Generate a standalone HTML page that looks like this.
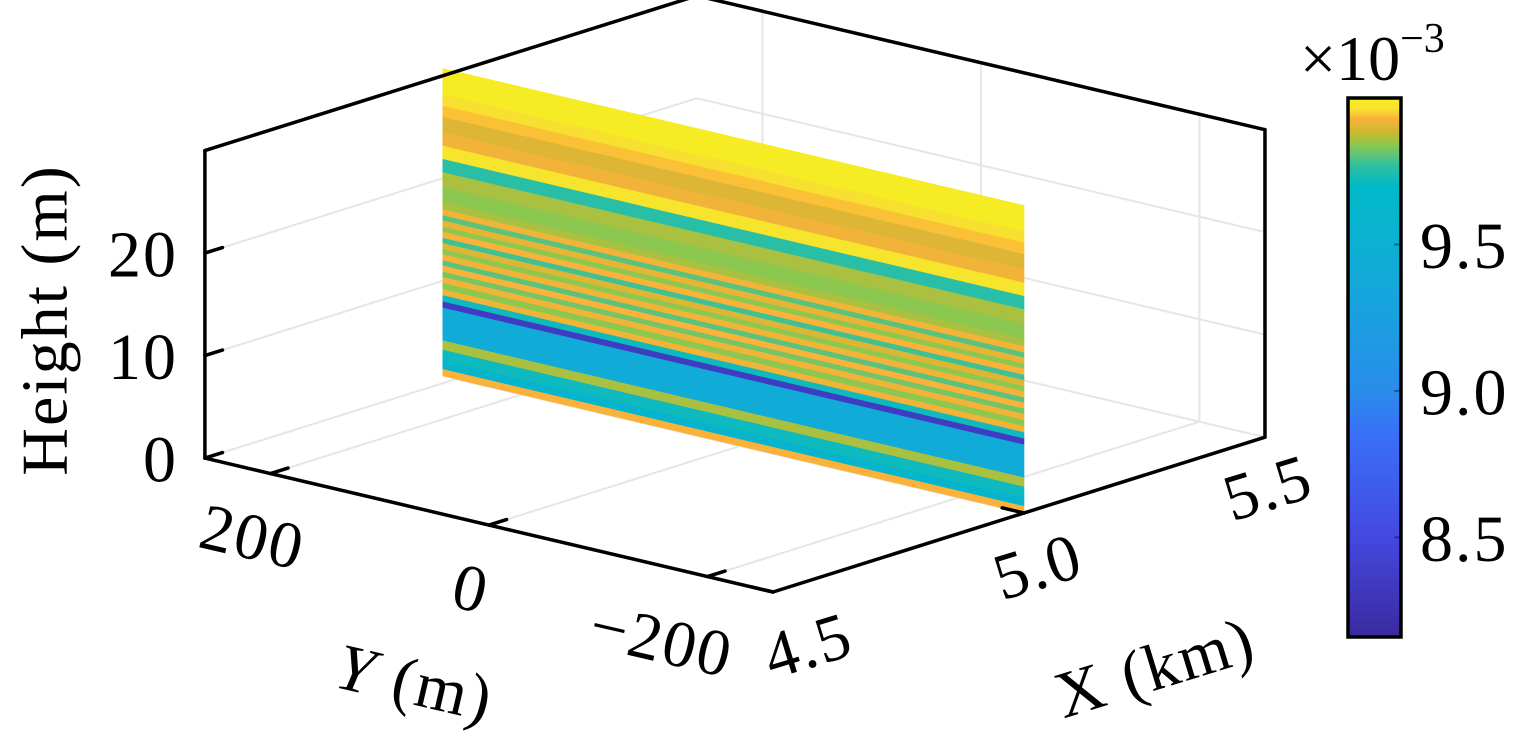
<!DOCTYPE html>
<html><head><meta charset="utf-8">
<style>
html,body{margin:0;padding:0;background:#fff;width:1535px;height:737px;overflow:hidden}
svg{display:block}
text{font-family:"Liberation Serif","DejaVu Serif",serif;fill:#000}
</style></head>
<body>
<svg id="chart" width="1535" height="737" viewBox="0 0 1535 737" xmlns="http://www.w3.org/2000/svg">
<defs>
<linearGradient id="cbgrad" x1="0" y1="0" x2="0" y2="1"></linearGradient>
</defs>
<g id="grid"></g>
<g id="slab"></g>
<g id="axes"></g>
<g id="labels"></g>
<g id="cbar"></g>
</svg>
<script>
// ---- data ----
const xTicks = [4.5, 5.0, 5.5];
const xTickLabels = ["4.5", "5.0", "5.5"];
const yTicks = [200, 0, -200];
const yTickLabels = ["200", "0", "\u2212200"];
const zTicks = [0, 10, 20];
const zTickLabels = ["0", "10", "20"];
const xLim = [4.5, 5.48];
const yLim = [-260, 260];
const zLim = [0, 30];
const slabX = 5.0;
// band lower bounds (m) and colour values (x1e-3)
const bandZ = [0,0.7,1.5,2.6,3.5,6.7,7.3,7.9,8.5,9.1,9.7,10.2,10.8,11.3,11.9,12.4,13.0,13.5,14.1,14.6,15.2,15.7,16.3,17.0,18.5,19.9,21.2,22.5,23.8,25.3,26.4,27.5];
const bandV = [9.93,9.6,9.72,9.86,9.42,8.35,9.72,9.92,9.84,9.92,9.82,9.93,9.8,9.92,9.84,9.9,9.78,9.93,9.84,9.91,9.8,9.92,9.86,9.84,9.86,9.76,9.97,9.92,9.9,9.94,9.96,9.99];
const cLim = [8.16, 10.0];
const cTicks = [8.5, 9.0, 9.5];
const cTickLabels = ["8.5", "9.0", "9.5"];
const cmapV = [8.16, 8.5, 8.85, 9.0, 9.25, 9.5, 9.7, 9.77, 9.84, 9.88, 9.93, 9.96, 10.0];
const cmapC = ["#3a2a9e","#4448e0","#3a70f8","#2a8cea","#1aa0e0","#0cb0d2","#00b8c8","#30c0a0","#8cc850","#c8b830","#fbb23a","#f8e030","#f5f020"];

// ---- projection ----
const O = [773, 592];
const EX = [502, -158];
const EY = [-1.0925, -0.2575];
const EZ = [0, -10.25];
function P(x, y, z) {
  const dx = x - xLim[0], dy = y - yLim[0];
  return [O[0] + dx*EX[0] + dy*EY[0] + z*EZ[0], O[1] + dx*EX[1] + dy*EY[1] + z*EZ[1]];
}
function hex(c){return [parseInt(c.substr(1,2),16),parseInt(c.substr(3,2),16),parseInt(c.substr(5,2),16)];}
function cmap(v) {
  if (v <= cmapV[0]) return cmapC[0];
  for (let i = 1; i < cmapV.length; i++) {
    if (v <= cmapV[i]) {
      const t = (v - cmapV[i-1]) / (cmapV[i] - cmapV[i-1]);
      const a = hex(cmapC[i-1]), b = hex(cmapC[i]);
      return "rgb(" + a.map((q,k)=>Math.round(q+(b[k]-q)*t)).join(",") + ")";
    }
  }
  return cmapC[cmapC.length-1];
}
const NS = "http://www.w3.org/2000/svg";
function mk(tag, attrs, parent) {
  const e = document.createElementNS(NS, tag);
  for (const k in attrs) e.setAttribute(k, attrs[k]);
  parent.appendChild(e);
  return e;
}
function pts(a){return a.map(p=>p[0].toFixed(1)+","+p[1].toFixed(1)).join(" ");}
function line(g, a, b, stroke, w, name) {
  const l = mk("line", {x1:a[0],y1:a[1],x2:b[0],y2:b[1],stroke:stroke,"stroke-width":w,"stroke-linecap":"round"}, g);
  
  
  return l;
}
const grid = document.getElementById("grid");
const slab = document.getElementById("slab");
const axes = document.getElementById("axes");
const labels = document.getElementById("labels");
const cbar = document.getElementById("cbar");
const GC = "#e6e6e6";
const FS = 66;

// ---- grid ----
zTicks.forEach(z => line(grid, P(xLim[0], yLim[1], z), P(xLim[1], yLim[1], z), GC, 2, "grid-line-z"));
xTicks.forEach(x => { if (x <= xLim[1]) line(grid, P(x, yLim[1], zLim[0]), P(x, yLim[1], zLim[1]), GC, 2, "grid-line-x"); });
zTicks.forEach(z => line(grid, P(xLim[1], yLim[0], z), P(xLim[1], yLim[1], z), GC, 2, "grid-line-z"));
yTicks.forEach(y => line(grid, P(xLim[1], y, zLim[0]), P(xLim[1], y, zLim[1]), GC, 2, "grid-line-y"));
yTicks.forEach(y => line(grid, P(xLim[0], y, 0), P(xLim[1], y, 0), GC, 2, "grid-line-y"));
xTicks.forEach(x => { if (x <= xLim[1]) line(grid, P(x, yLim[0], 0), P(x, yLim[1], 0), GC, 2, "grid-line-x"); });

// ---- slab bands ----
for (let i = 0; i < bandZ.length; i++) {
  const z0 = bandZ[i], z1 = (i + 1 < bandZ.length) ? bandZ[i+1] : zLim[1];
  const poly = mk("polygon", {points: pts([P(slabX, yLim[1]+12, z0), P(slabX, yLim[0], z0), P(slabX, yLim[0], z1), P(slabX, yLim[1]+12, z1)]), fill: cmap(bandV[i]), stroke: cmap(bandV[i]), "stroke-width": 0.6}, slab);
  
  
}

// ---- axes box ----
const K = "#000";
const L0 = P(xLim[0], yLim[1], 0), F0 = P(xLim[0], yLim[0], 0), R0 = P(xLim[1], yLim[0], 0);
const L1 = P(xLim[0], yLim[1], zLim[1]), B1 = P(xLim[1], yLim[1], zLim[1]), R1 = P(xLim[1], yLim[0], zLim[1]);
line(axes, L0, F0, K, 3.5, "y-axis-line");
line(axes, F0, R0, K, 3.5, "x-axis-line");
line(axes, L0, L1, K, 3.5, "z-axis-line");
line(axes, R0, R1, K, 3.5, "box-edge-right");
line(axes, L1, B1, K, 3.5, "box-edge-top-left");
line(axes, B1, R1, K, 3.5, "box-edge-top-right");
zTicks.forEach((z, i) => {
  const a = P(xLim[0], yLim[1], z), b = P(xLim[0] + 0.035, yLim[1], z);
  line(axes, a, b, K, 3.5, "z-tick");
  const t = mk("text", {x: 178, y: a[1] + 2, "font-size": FS, "text-anchor": "end", "dominant-baseline": "central", "letter-spacing": 2}, labels);
  t.textContent = zTickLabels[i];
  
  
});
yTicks.forEach((y, i) => {
  const a = P(xLim[0], y, 0), b = P(xLim[0] + 0.035, y, 0);
  line(axes, a, b, K, 3.5, "y-tick");
  const c = [a[0] - 18 + (y < 0 ? -28 : 0), a[1] + 64];
  const t = mk("text", {x: c[0], y: c[1], "font-size": FS, "text-anchor": "middle", "dominant-baseline": "central", "letter-spacing": 2, transform: "rotate(13 " + c[0] + " " + c[1] + ")"}, labels);
  t.textContent = yTickLabels[i];
  
  
});
xTicks.forEach((x, i) => {
  const a = P(x, yLim[0], 0), b = P(x, yLim[0] + 20, 0);
  if (x <= xLim[1]) line(axes, a, b, K, 3.5, "x-tick");
  const c = [a[0] + 35 - 42 * (x - xLim[0]), a[1] + 54];
  const t = mk("text", {x: c[0], y: c[1], "font-size": FS, "text-anchor": "middle", "dominant-baseline": "central", "letter-spacing": 2, transform: "rotate(-17 " + c[0] + " " + c[1] + ")"}, labels);
  t.textContent = xTickLabels[i];
  
  
});

(function(){
  let t = mk("text", {x: 0, y: 0, "font-size": FS, "text-anchor": "middle", "dominant-baseline": "central", "letter-spacing": 2, transform: "translate(45 320) rotate(-90)"}, labels);
  t.textContent = "Height (m)";
  
  
  t = mk("text", {x: 0, y: 0, "font-size": FS, "text-anchor": "middle", "dominant-baseline": "central", "letter-spacing": 2, transform: "translate(415 683) rotate(13)"}, labels);
  t.innerHTML = '<tspan font-style="italic">Y</tspan> (m)';
  
  
  t = mk("text", {x: 0, y: 0, "font-size": FS, "text-anchor": "middle", "dominant-baseline": "central", "letter-spacing": 2, transform: "translate(1155 668) rotate(-17)"}, labels);
  t.textContent = "X (km)";
  
  
})();

// ---- colorbar ----
const CB = {x: 1348, y: 98, w: 53, h: 539};
const grad = document.getElementById("cbgrad");
for (let i = cmapV.length - 1; i >= 0; i--) {
  const off = (cLim[1] - cmapV[i]) / (cLim[1] - cLim[0]);
  mk("stop", {offset: Math.min(1, Math.max(0, off)).toFixed(4), "stop-color": cmapC[i]}, grad);
}
const cbRect = mk("rect", {x: CB.x, y: CB.y, width: CB.w, height: CB.h, fill: "url(#cbgrad)", stroke: "#000", "stroke-width": 3.5}, cbar);


function cy(v){return CB.y + (cLim[1] - v) / (cLim[1] - cLim[0]) * CB.h;}
cTicks.forEach((v, i) => {
  const y = cy(v);
  line(cbar, [CB.x + CB.w - 6, y], [CB.x + CB.w, y], "rgba(0,0,0,0.4)", 2, "colorbar-tick");
  const t = mk("text", {x: 1420, y: y + 2, "font-size": FS, "dominant-baseline": "central", "letter-spacing": 2}, cbar);
  t.textContent = cTickLabels[i];
  
  
});
(function(){
  const t = mk("text", {x: 1300, y: 80, "font-size": 64}, cbar);
  t.innerHTML = '\u00d710<tspan font-size="42" dy="-28">\u22123</tspan>';
  
  
})();
</script>
</body></html>
